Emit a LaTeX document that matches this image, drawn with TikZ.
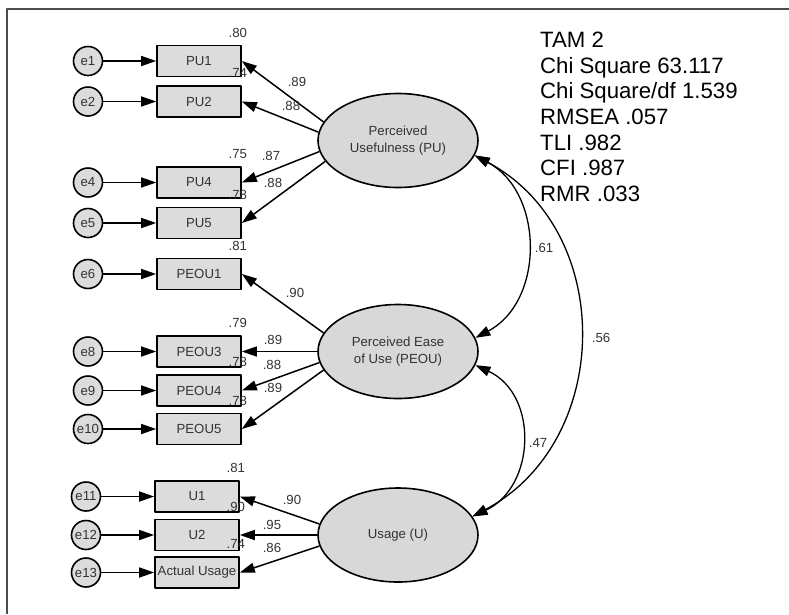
\documentclass[tikz,border=0pt]{standalone}
\usepackage{fontspec}
\setmainfont{Liberation Sans}
\usetikzlibrary{arrows.meta,shapes.geometric}
\definecolor{boxgray}{HTML}{DCDCDC}
\definecolor{latgray}{HTML}{D8D8D8}
\definecolor{txtgray}{HTML}{333333}
\begin{document}
\begin{tikzpicture}[x=1pt, y=-1pt, line join=round, font=\fontsize{13.2}{17}\selectfont,
	ind/.style={draw, line width=1.6pt, fill=boxgray, minimum width=84pt, minimum height=31pt, inner sep=1pt, text=txtgray},
	err/.style={circle, draw, line width=1.6pt, fill=boxgray, minimum size=29pt, inner sep=0pt, text=txtgray},
	lat/.style={ellipse, draw, line width=1.6pt, fill=latgray, minimum width=160pt, minimum height=94pt, inner sep=0pt, align=center, text=txtgray},
	arr/.style={-{Triangle[length=15pt,width=10pt]}, line width=1.5pt},
	cov/.style={{Triangle[length=15pt,width=10pt]}-{Triangle[length=15pt,width=10pt]}, line width=1.3pt},
	lbl/.style={text=txtgray, inner sep=0pt},
	stat/.style={anchor=base west, inner sep=0pt, font=\fontsize{22.2}{27}\selectfont}]
	\useasboundingbox (0,0) rectangle (789,614);
	\draw[line width=1.5pt, black!70] (7,614) -- (7,9) -- (789,9);
	% observed variables and their errors
	\foreach \n/\t/\x/\y/\e/\r in {PU1/PU1/199/61/e1/.80, PU2/PU2/199/101.5/e2/.74,
		PU4/PU4/199/182.5/e4/.75, PU5/PU5/199/223/e5/.78,
		PEOU1/PEOU1/199/274/e6/.81, PEOU3/PEOU3/199/351.5/e8/.79,
		PEOU4/PEOU4/199/390.5/e9/.78, PEOU5/PEOU5/199/429/e10/.78,
		U1/U1/197/496.5/e11/.81, U2/U2/197/535/e12/.90, AU/Actual Usage/197/572.5/e13/.74}
	{
		\node[ind] (\n) at (\x,\y) {\t};
		\node[err] (\e) at (\x-111,\y) {\e};
		\draw[arr] (\e) -- (\n);
		\node[lbl] (r\n) at ([shift={(-4,-12)}]\n.north east) {\r};
	}
	% latent variables
	\node[lat] (PU) at (398,140.5) {Perceived\\Usefulness (PU)};
	\node[lat] (PEOU) at (398,351.5) {Perceived Ease\\of Use (PEOU)};
	\node[lat] (U) at (398,535) {Usage (U)};
	\foreach \n/\a in {PU1/166, PU2/174, PU4/188, PU5/196}
	\draw[arr] (PU.\a) -- (\n.east);
	\foreach \n/\a in {PEOU1/166, PEOU3/180, PEOU4/188, PEOU5/194}
	\draw[arr] (PEOU.\a) -- (\n.east);
	\foreach \n/\a in {U1/172, U2/180, AU/188}
	\draw[arr] (U.\a) -- (\n.east);
	\foreach \v/\x/\y [count=\i] in {.89/297/82, .88/291/106, .87/271/156, .88/273/183,
		.90/295/293, .89/273/340, .88/272/365, .89/273/388,
		.90/292/500, .95/272/525, .86/272/548}
	\node[lbl] (w\i) at (\x,\y) {\v};
	% correlations
	\draw[cov] (PU.-11) to[out=-28, in=28, looseness=1.1] (PEOU.10);
	\draw[cov] (PU.-11) to[out=-28, in=28, looseness=1.13] (U.14);
	\draw[cov] (PEOU.-10) to[out=-25, in=25, looseness=1.18] (U.14);
	\node[lbl] (c1) at (544,248) {.61};
	\node[lbl] (c2) at (601,338) {.56};
	\node[lbl] (c3) at (538,443) {.47};
	% fit indices
	\foreach \s [count=\i] in {TAM 2, Chi Square 63.117, Chi Square/df 1.539, RMSEA .057, TLI .982, CFI .987, RMR .033}
	\node[stat] (s\i) at (540,{47.3+25.7*(\i-1)}) {\s};
\end{tikzpicture}
\end{document}
